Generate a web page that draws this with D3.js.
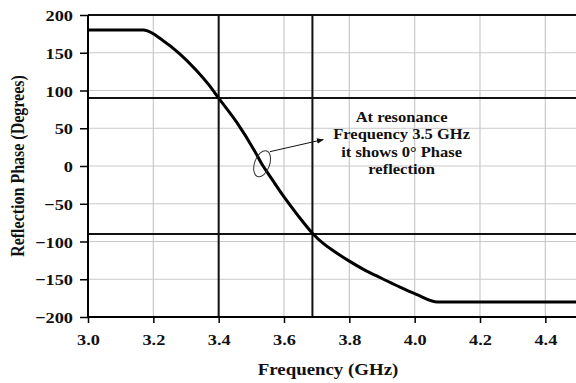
<!DOCTYPE html>
<html>
<head>
<meta charset="utf-8">
<script src="https://cdn.jsdelivr.net/npm/d3@7"></script>
<style>
  html, body { margin: 0; padding: 0; background: #fff; overflow: hidden; }
  svg { display: block; }
  text { font-family: "Liberation Serif", "Times New Roman", serif; font-weight: bold; fill: #111; }
</style>
</head>
<body>
<script>
// Reflection phase of the unit cell versus frequency
const frequency = [3.00, 3.17, 3.23, 3.28, 3.33, 3.37, 3.40, 3.455, 3.51, 3.536, 3.55, 3.60, 3.64, 3.687, 3.72, 3.75, 3.80, 3.85, 3.90, 3.955, 4.005, 4.07, 4.50];
const phase     = [180, 180, 166, 149, 127.5, 107.5, 90, 58, 20, 0, -9, -41, -64, -89, -102.5, -112, -126, -138.5, -149, -160.5, -170, -180, -180];

// Tick values
const xTicks = [3.0, 3.2, 3.4, 3.6, 3.8, 4.0, 4.2, 4.4];
const yTicks = [-200, -150, -100, -50, 0, 50, 100, 150, 200];

// Reference markers: ±90° band and the frequencies where the curve meets them
const refPhases = [90, -90];
const refFreqs = [3.40, 3.687];

// Note pointing at the zero crossing
const noteLines = ["At resonance", "Frequency 3.5 GHz", "it shows 0° Phase", "reflection"];
const noteAnchor = { f: 3.96, p: 58 };
const ringCenter = { f: 3.533, p: 3 };
const arrowFrom = { f: 3.557, p: 19 };
const arrowTo = { f: 3.72, p: 35 };

const W = 576, H = 383;
const SX = 1.18; // horizontal glyph stretch

const svg = d3.select("body").append("svg").attr("width", W).attr("height", H);

const x = d3.scaleLinear().domain([3.0, 4.5]).range([88, 578]);
const y = d3.scaleLinear().domain([-200, 200]).range([317, 15]);

const plot = svg.append("g");

// Grid
plot.append("g").selectAll("line").data(xTicks.slice(1)).join("line")
  .attr("x1", d => x(d)).attr("x2", d => x(d))
  .attr("y1", y(200)).attr("y2", y(-200))
  .attr("stroke", "#c9c9c9").attr("stroke-width", 1.2);
plot.append("g").selectAll("line").data(yTicks.slice(1, -1)).join("line")
  .attr("x1", x(3.0)).attr("x2", W)
  .attr("y1", d => y(d)).attr("y2", d => y(d))
  .attr("stroke", "#c9c9c9").attr("stroke-width", 1.2);

// Top frame line
plot.append("line")
  .attr("x1", x(3.0)).attr("x2", W)
  .attr("y1", y(200)).attr("y2", y(200))
  .attr("stroke", "#111").attr("stroke-width", 1.8);

// Reference lines
plot.append("g").selectAll("line").data(refPhases).join("line")
  .attr("x1", x(3.0)).attr("x2", W)
  .attr("y1", d => y(d)).attr("y2", d => y(d))
  .attr("stroke", "#111").attr("stroke-width", 2);
plot.append("g").selectAll("line").data(refFreqs).join("line")
  .attr("x1", d => x(d)).attr("x2", d => x(d))
  .attr("y1", y(200)).attr("y2", y(-200))
  .attr("stroke", "#111").attr("stroke-width", 2);

// Phase curve
const pts = frequency.map((f, i) => [f, phase[i]]);
const line = d3.line().x(d => x(d[0])).y(d => y(d[1])).curve(d3.curveMonotoneX);
plot.append("path").datum(pts)
  .attr("d", line)
  .attr("fill", "none").attr("stroke", "#000").attr("stroke-width", 3)
  .attr("stroke-linejoin", "round");

// Axes
const xAxis = svg.append("g").attr("transform", `translate(0,${y(-200)})`)
  .call(d3.axisBottom(x).tickValues(xTicks).tickFormat(d3.format(".1f")).tickSize(6).tickSizeOuter(0));
const yAxis = svg.append("g").attr("transform", `translate(${x(3.0)},0)`)
  .call(d3.axisLeft(y).tickValues(yTicks).tickSize(8).tickSizeOuter(0));

[xAxis, yAxis].forEach(a => {
  a.select(".domain").attr("stroke", "#000").attr("stroke-width", 2);
  a.selectAll(".tick line").attr("stroke", "#000").attr("stroke-width", 1.5);
  a.selectAll("text").attr("font-size", 15.5).attr("fill", "#111")
    .style("font-family", '"Liberation Serif", "Times New Roman", serif').style("font-weight", "bold");
});
yAxis.select(".domain").attr("d", `M0,${y(200)}V${y(-200)}`);
xAxis.select(".domain").attr("d", `M${x(3.0)},0H${W}`);
xAxis.selectAll("text").attr("y", null).attr("dy", null)
  .attr("transform", `translate(0,28) scale(${SX},1)`);
yAxis.selectAll("text").attr("x", null).attr("dy", null)
  .attr("transform", `translate(-15,5.5) scale(${SX},1)`);

// Axis titles
svg.append("text")
  .attr("transform", `translate(${(x(3.0) + W) / 2 - 4},375) scale(${SX},1)`)
  .attr("text-anchor", "middle").attr("font-size", 16)
  .text("Frequency (GHz)");
svg.append("text")
  .attr("transform", `translate(24,${(y(200) + y(-200)) / 2}) rotate(-90) scale(1,${SX})`)
  .attr("text-anchor", "middle").attr("font-size", 16)
  .text("Reflection Phase (Degrees)");

// Annotation
svg.append("defs").append("marker")
  .attr("id", "arrowhead").attr("viewBox", "0 0 10 10")
  .attr("refX", 9).attr("refY", 5)
  .attr("markerWidth", 7).attr("markerHeight", 7)
  .attr("orient", "auto")
  .append("path").attr("d", "M0,1 L10,5 L0,9 Z").attr("fill", "#111");

svg.append("ellipse")
  .attr("transform", `translate(${x(ringCenter.f)},${y(ringCenter.p)}) rotate(20)`)
  .attr("rx", 7.5).attr("ry", 13.5)
  .attr("fill", "none").attr("stroke", "#333").attr("stroke-width", 1);

svg.append("line")
  .attr("x1", x(arrowFrom.f)).attr("y1", y(arrowFrom.p))
  .attr("x2", x(arrowTo.f)).attr("y2", y(arrowTo.p))
  .attr("stroke", "#111").attr("stroke-width", 1)
  .attr("marker-end", "url(#arrowhead)");

const note = svg.append("g");
noteLines.forEach((t, i) => {
  note.append("text")
    .attr("transform", `translate(${x(noteAnchor.f)},${y(noteAnchor.p) + i * 17.2}) scale(${SX},1)`)
    .attr("text-anchor", "middle").attr("font-size", 14)
    .text(t);
});
</script>
</body>
</html>
